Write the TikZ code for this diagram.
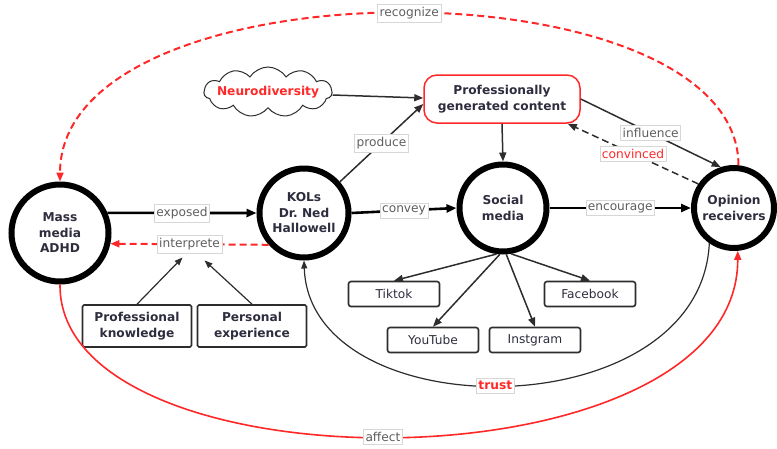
\documentclass[tikz,border=0pt]{standalone}
\usepackage{fontspec}
\setmainfont{DejaVu Sans}
\usetikzlibrary{arrows.meta,shapes.symbols}
\definecolor{txt}{RGB}{45,45,62}
\definecolor{lblc}{RGB}{95,95,95}
\definecolor{myred}{RGB}{255,40,40}
\definecolor{edgec}{RGB}{45,45,45}
\definecolor{lbord}{RGB}{215,215,215}
\begin{document}
\begin{tikzpicture}[x=1pt,y=-1pt,
  bfnt/.style={font=\fontsize{12.2}{15.5}\selectfont\bfseries},
  big/.style={circle,draw=black,line width=6pt,text=txt,bfnt,align=center,inner sep=0pt,outer sep=3pt},
  sbox/.style={draw=edgec,line width=1.6pt,rounded corners=2.5pt,text=txt,font=\fontsize{12.2}{15}\selectfont,minimum width=91pt,minimum height=25pt,inner sep=0pt},
  kbox/.style={draw=edgec,line width=1.6pt,rounded corners=1.5pt,text=txt,bfnt,align=center,minimum width=109pt,minimum height=42pt,inner sep=0pt},
  lbl/.style={solid,fill=white,draw=lbord,line width=0.6pt,text=lblc,inner xsep=2pt,inner ysep=3pt,font=\fontsize{12.2}{13}\selectfont},
  arr/.style={-{Triangle[length=9pt,width=7pt]},draw=edgec,line width=1.5pt},
  thickarr/.style={-{Triangle[length=10pt,width=8pt]},draw=black,line width=2.6pt},
  thinarr/.style={-{Triangle[length=8pt,width=6pt]},draw=edgec,line width=1.2pt},
  dasharr/.style={-{Triangle[length=9pt,width=7pt]},draw=edgec,line width=1.5pt,dash pattern=on 7pt off 4pt},
  reddash/.style={-{Triangle[length=9pt,width=7pt]},draw=myred,line width=2pt,dash pattern=on 7pt off 4pt},
  redarr/.style={-{Triangle[length=9pt,width=7pt]},draw=myred,line width=1.6pt}
]
\useasboundingbox (0,0) rectangle (777,448);

% main circles
\node[big,minimum size=97pt] (mass) at (60,233) {Mass\\media\\ADHD};
\node[big,minimum size=89pt] (kol) at (304,213) {KOLs\\Dr.\ Ned\\Hallowell};
\node[big,minimum size=87pt] (soc) at (503,208) {Social\\media};
\node[big,minimum size=80pt] (opi) at (734,208) {Opinion\\receivers};

% cloud and content
\node[cloud,draw=edgec,line width=1pt,cloud puffs=11,cloud puff arc=115,aspect=2.6,minimum width=128pt,minimum height=50pt,inner sep=0pt] (neuro) at (268,92) {};
\node[text=myred,bfnt] (neurotxt) at (neuro.center) {Neurodiversity};
\node[draw=myred,line width=1.5pt,rounded corners=13pt,minimum width=156pt,minimum height=48pt,align=center,text=txt,bfnt,inner sep=0pt] (pgc) at (502,99) {Professionally\\generated content};

% platform boxes
\node[sbox] (tik) at (394,294) {Tiktok};
\node[sbox] (yt) at (433,340) {YouTube};
\node[sbox] (ins) at (535,340) {Instgram};
\node[sbox] (fb) at (590,294) {Facebook};

% knowledge boxes
\node[kbox] (pk) at (137,326) {Professional\\knowledge};
\node[kbox] (pe) at (252,326) {Personal\\experience};

% connectors
\draw[thickarr] (mass.23) -- node[lbl]{exposed} (kol.west);
\draw[reddash] (kol.222) -- node[lbl,pos=0.5] (interp) {interprete} (mass.-12);
\draw[thinarr] (pk.north) -- ([xshift=-7pt,yshift=-4pt]interp.south);
\draw[thinarr] (pe.north) -- ([xshift=15pt,yshift=-7pt]interp.south);

\draw[arr] (kol.41) -- node[lbl]{produce} ([yshift=-5pt]pgc.west);
\draw[arr] ([yshift=-3pt]neuro.east) -- ([yshift=1pt]pgc.west);
\draw[arr] (pgc.south) -- (soc.north);
\draw[thickarr] (kol.east) -- node[lbl]{convey} (soc.west);
\draw[thickarr] (soc.east) -- node[lbl]{encourage} (opi.west);
\draw[arr] (pgc.east) -- node[lbl]{influence} (opi.108);
\draw[dasharr] (opi.146) -- node[lbl,text=myred]{convinced} ([xshift=-13pt]pgc.south east);

\draw[reddash] (opi.84) .. controls (738,-40) and (60,-40) .. node[lbl,pos=0.49]{recognize} (mass.north);
\draw[redarr] (mass.south) .. controls (58,493) and (738,493) .. node[lbl,pos=0.485]{affect} (opi.275);
\draw[thinarr] (opi.235) .. controls (700,430) and (310,430) .. node[lbl,text=myred,bfnt,pos=0.517]{trust} (kol.south);

\draw[arr] (soc.262) -- (tik.north);
\draw[arr] (soc.266) -- (yt.north);
\draw[arr] (soc.274) -- (ins.north);
\draw[arr] (soc.280) -- (fb.north);
\end{tikzpicture}
\end{document}
